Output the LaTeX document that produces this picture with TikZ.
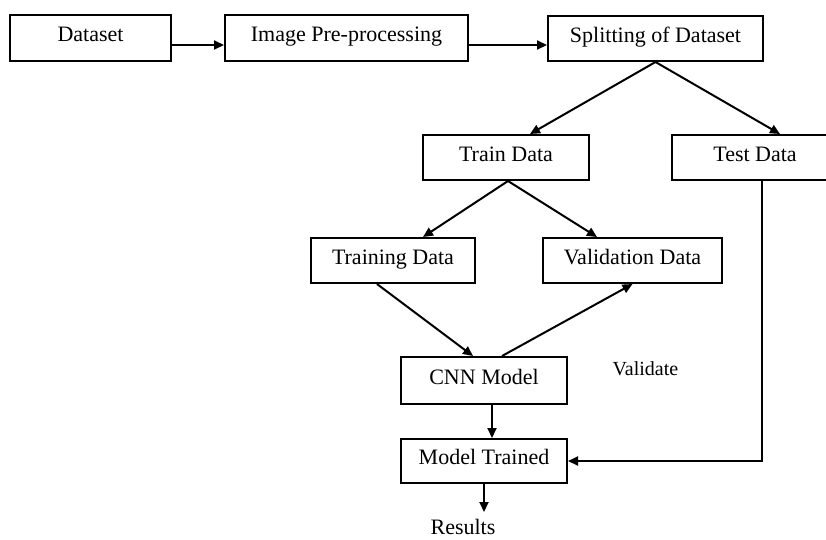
\documentclass[tikz,border=0pt]{standalone}
\usepackage{fontspec}
\setmainfont{Liberation Serif}
\usetikzlibrary{arrows.meta}
\tikzset{
  blk/.style={draw, line width=2pt, inner sep=0pt, text height=10.5pt, text depth=3.5pt},
  arr/.style={line width=2pt, -{Triangle[length=10pt,width=9pt]}},
}
\begin{document}
\begin{tikzpicture}[x=1pt,y=-1pt,font=\fontsize{22}{26}\selectfont]
\useasboundingbox (0,0) rectangle (826,539);

% top row
\node[blk, minimum width=161pt, minimum height=46pt] (dset) at (90.5,38) {Dataset};
\node[blk, minimum width=243pt, minimum height=46pt] (imgpre) at (346.5,38) {Image Pre-processing};
\node[blk, minimum width=215pt, minimum height=45pt] (split) at (655.5,38.5) {Splitting of Dataset};

% split
\node[blk, minimum width=166pt, minimum height=45pt] (train) at (506,157.5) {Train Data};
\node[blk, minimum width=166pt, minimum height=45pt] (test) at (755,157.5) {Test Data};
\node[blk, minimum width=164pt, minimum height=45pt] (training) at (393,260.5) {Training Data};
\node[blk, minimum width=179pt, minimum height=45pt] (valid) at (632.5,260.5) {Validation Data};

% model
\node[blk, minimum width=166pt, minimum height=47pt] (cnn) at (484,380.5) {CNN Model};
\node[blk, minimum width=166pt, minimum height=44pt] (trained) at (484,461) {Model Trained};
\node[inner sep=0pt] (res) at (463,527) {Results};
\node[inner sep=0pt, font=\fontsize{20}{24}\selectfont] (vtxt) at (645.5,369) {Validate};
\coordinate (resin) at (484,512);

\draw[arr] ([yshift=-7pt]dset.east) -- ([yshift=-7pt]imgpre.west);
\draw[arr] ([yshift=-7pt]imgpre.east) -- ([yshift=-6.5pt]split.west);
\draw[arr] (split.south) -- ([xshift=24pt]train.north);
\draw[arr] (split.south) -- ([xshift=25pt]test.north);
\draw[arr] ([xshift=2pt]train.south) -- ([xshift=30pt]training.north);
\draw[arr] ([xshift=2pt]train.south) -- ([xshift=-35.5pt]valid.north);
\draw[arr] ([xshift=-16pt]training.south) -- ([xshift=-11pt]cnn.north);
\draw[arr] ([xshift=18pt]cnn.north) -- ([xshift=0pt]valid.south);
\draw[arr] ([xshift=8pt]cnn.south) -- ([xshift=8pt]trained.north);
\draw[arr] ([xshift=7pt]test.south) -- ([xshift=7pt]test.south |- trained.east) -- (trained.east); % test -> trained
\draw[arr] (trained.south) -- (resin);
\end{tikzpicture}
\end{document}
